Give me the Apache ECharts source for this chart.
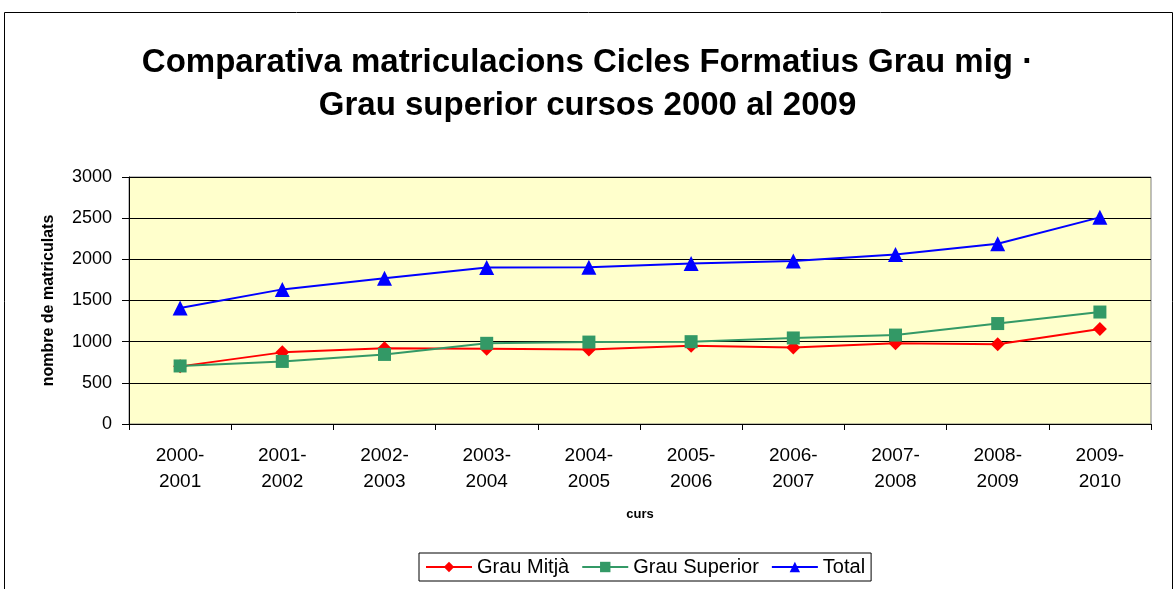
<!DOCTYPE html>
<html><head><meta charset="utf-8">
<script src="https://cdn.jsdelivr.net/npm/echarts@6/dist/echarts.min.js"></script>
<style>html,body{margin:0;padding:0;background:#fff;}#c{width:1175px;height:589px;}</style>
</head><body><div id="c"></div>
<script>
const categories = ['2000-\n2001','2001-\n2002','2002-\n2003','2003-\n2004','2004-\n2005','2005-\n2006','2006-\n2007','2007-\n2008','2008-\n2009','2009-\n2010'];
const grauMitja = [700, 870, 920, 915, 905, 950, 930, 980, 970, 1155];
const grauSuperior = [705, 760, 845, 980, 995, 1000, 1045, 1080, 1220, 1360];
const total = [1410, 1635, 1770, 1900, 1905, 1950, 1980, 2060, 2190, 2510];
const FONT = '"Liberation Sans", Arial, sans-serif';

const chart = echarts.init(document.getElementById('c'), null, {renderer: 'canvas'});
chart.setOption({
  animation: false,
  textStyle: {fontFamily: FONT, color: '#000'},
  title: {
    text: 'Comparativa matriculacions Cicles Formatius Grau mig ·\nGrau superior cursos 2000 al 2009',
    left: 'center', top: 36,
    textStyle: {fontFamily: FONT, fontSize: 33, fontWeight: 'bold', color: '#000', lineHeight: 43}
  },
  graphic: [{
    type: 'rect', shape: {x: 4.5, y: 12.5, width: 1168, height: 590},
    style: {fill: 'none', stroke: '#000', lineWidth: 1}, silent: true, z: -1
  }],
  legend: {
    top: 553, left: 419,
    itemGap: 12, itemWidth: 46, itemHeight: 13,
    borderColor: '#000', borderWidth: 1, padding: [4, 6, 4, 6],
    textStyle: {fontFamily: FONT, fontSize: 20, color: '#000'},
    data: ['Grau Mitjà', 'Grau Superior', 'Total']
  },
  grid: {left: 129, right: 24, top: 177, bottom: 165, show: true, backgroundColor: '#FFFFCC', borderColor: '#808080', borderWidth: 1},
  xAxis: {
    type: 'category', data: categories, boundaryGap: true,
    name: 'curs', nameLocation: 'middle', nameGap: 84,
    nameTextStyle: {fontFamily: FONT, fontSize: 13, fontWeight: 'bold', color: '#000'},
    axisLine: {lineStyle: {color: '#000', width: 1}},
    axisTick: {show: true, alignWithLabel: false, length: 6, lineStyle: {color: '#000'}},
    axisLabel: {fontFamily: FONT, fontSize: 19, color: '#000', lineHeight: 26, margin: 19, interval: 0}
  },
  yAxis: {
    type: 'value', min: 0, max: 3000, interval: 500,
    name: 'nombre de matriculats', nameLocation: 'middle', nameGap: 72, nameRotate: 90,
    nameTextStyle: {fontFamily: FONT, fontSize: 16, fontWeight: 'bold', color: '#000'},
    axisLine: {show: true, lineStyle: {color: '#000', width: 1}},
    axisTick: {show: true, length: 7, lineStyle: {color: '#000'}},
    axisLabel: {fontFamily: FONT, fontSize: 18, color: '#000', margin: 17, formatter: v => String(v)},
    splitLine: {show: true, lineStyle: {color: '#000', width: 1}}
  },
  series: [
    {name: 'Grau Mitjà', type: 'line', data: grauMitja, symbol: 'diamond', symbolSize: 14,
     itemStyle: {color: '#FF0000'}, lineStyle: {color: '#FF0000', width: 2}, z: 3},
    {name: 'Grau Superior', type: 'line', data: grauSuperior, symbol: 'rect', symbolSize: 13,
     itemStyle: {color: '#339966'}, lineStyle: {color: '#339966', width: 2}, z: 4},
    {name: 'Total', type: 'line', data: total, symbol: 'triangle', symbolSize: 15,
     itemStyle: {color: '#0000FF'}, lineStyle: {color: '#0000FF', width: 2}, z: 5}
  ]
});
</script>
</body></html>
